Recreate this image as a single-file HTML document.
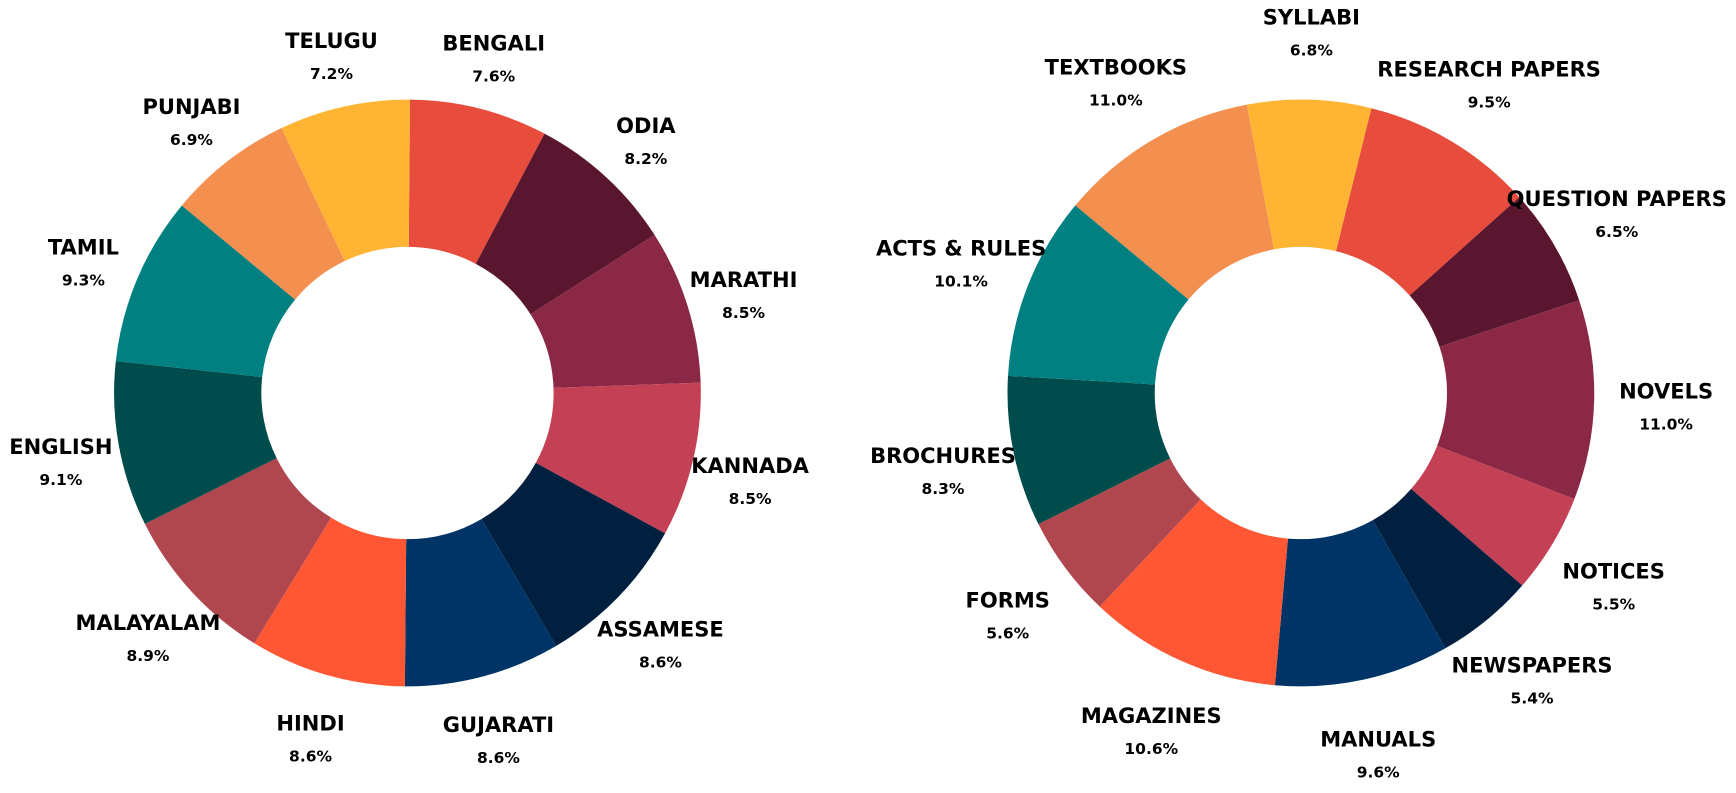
<!DOCTYPE html>
<html><head><meta charset="utf-8"><style>
html,body{margin:0;padding:0;background:#fff;}
svg{display:block;}
text{font-family:"DejaVu Sans","Liberation Sans",sans-serif;font-weight:bold;fill:#000;text-anchor:middle;}
</style></head><body>
<svg id="chart" width="1736" height="793" viewBox="0 0 1568 716.3" xmlns="http://www.w3.org/2000/svg"></svg>
<script>
const langLabels=["BENGALI","ODIA","MARATHI","KANNADA","ASSAMESE","GUJARATI","HINDI","MALAYALAM","ENGLISH","TAMIL","PUNJABI","TELUGU"];
const langValues=[7.6,8.2,8.5,8.5,8.6,8.6,8.6,8.9,9.1,9.3,6.9,7.2];
const docLabels=["RESEARCH PAPERS","QUESTION PAPERS","NOVELS","NOTICES","NEWSPAPERS","MANUALS","MAGAZINES","FORMS","BROCHURES","ACTS & RULES","TEXTBOOKS","SYLLABI"];
const docValues=[9.5,6.5,11.0,5.5,5.4,9.6,10.6,5.6,8.3,10.1,11.0,6.8];
const colors=["#e74c3c","#5a162e","#8b2845","#c44055","#011f3f","#003366","#ff5733","#b0474f","#004c4c","#008080","#f39050","#ffb533"];
const svg=document.getElementById('chart');
const NS="http://www.w3.org/2000/svg";
function pt(cx,cy,r,deg){const a=deg*Math.PI/180;return [cx+r*Math.sin(a),cy-r*Math.cos(a)];}
function donut(labels,values,cx,cy,start,prefix,lr,ly){
  const R=265,r=132,total=values.reduce((a,b)=>a+b,0);
  let ang=start;
  const g=document.createElementNS(NS,'g');
  
  
  svg.appendChild(g);
  values.forEach((v,i)=>{
    const sweep=v/total*360,a0=ang,a1=ang+sweep;
    const p0=pt(cx,cy,R,a0),p1=pt(cx,cy,R,a1),q1=pt(cx,cy,r,a1),q0=pt(cx,cy,r,a0);
    const lg=sweep>180?1:0;
    const p=document.createElementNS(NS,'path');
    p.setAttribute('d',`M${p0[0]},${p0[1]} A${R},${R} 0 ${lg} 1 ${p1[0]},${p1[1]} L${q1[0]},${q1[1]} A${r},${r} 0 ${lg} 0 ${q0[0]},${q0[1]} Z`);
    p.setAttribute('fill',colors[i]);
    
    
    g.appendChild(p);
    ang=a1;
  });
  ang=start;
  values.forEach((v,i)=>{
    const sweep=v/total*360,mid=ang+sweep/2;ang+=sweep;
    const a=pt(cx,cy-ly,lr,mid);
    const t=document.createElementNS(NS,'text');
    t.setAttribute('x',a[0]);t.setAttribute('y',a[1]+7);
    t.setAttribute('font-size','19');
    t.textContent=labels[i];
    
    
    svg.appendChild(t);
    const s=document.createElementNS(NS,'text');
    s.setAttribute('x',a[0]);s.setAttribute('y',a[1]+35);
    s.setAttribute('font-size','14');
    s.textContent=v.toFixed(1)+'%';
    
    
    svg.appendChild(s);
  });
}
donut(langLabels,langValues,368,355,0.5,'language',318,8);
donut(docLabels,docValues,1175,355,13.9,'document',330,10);
</script>
</body></html>
